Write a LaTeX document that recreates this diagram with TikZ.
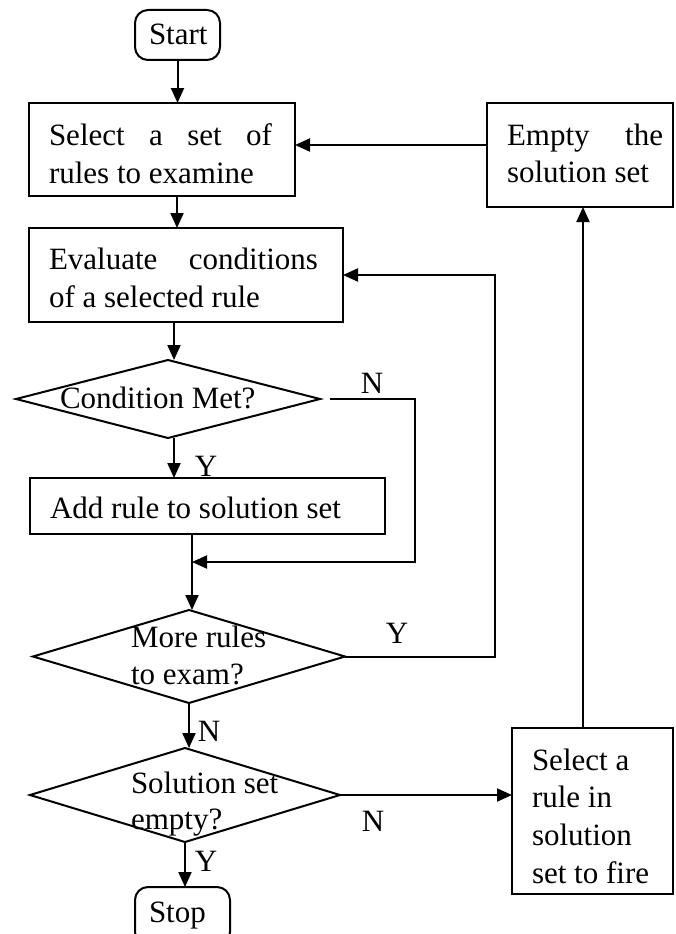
\documentclass[tikz,border=0pt]{standalone}
\usepackage{fontspec}
\setmainfont{Liberation Serif}
\usetikzlibrary{arrows.meta,shapes.geometric}
\begin{document}
\begin{tikzpicture}[x=1pt,y=-1pt,
  every node/.style={font=\fontsize{31}{38}\selectfont, inner sep=0pt, outer sep=0pt},
  box/.style={draw, line width=2pt, rectangle},
  term/.style={draw, line width=2pt, rectangle, rounded corners=13pt},
  dec/.style={draw, line width=2pt, diamond, aspect=1},
  txt/.style={anchor=base west},
  lab/.style={anchor=center},
  ln/.style={line width=2pt},
  arr/.style={line width=2pt, -{Triangle[length=15pt,width=13pt]}},
]
\useasboundingbox (0,0) rectangle (676,934);
\clip (0,0) rectangle (676,934);

% ---- shapes ----
\node[term, minimum width=85pt, minimum height=50pt] (start) at (177.5,35) {};
\node[box, minimum width=266pt, minimum height=93pt] (b1) at (162,149.5) {};
\node[box, minimum width=186pt, minimum height=104pt] (empty) at (580,155) {};
\node[box, minimum width=314pt, minimum height=94pt] (b2) at (186,275) {};
\node[dec, minimum width=304pt, minimum height=78pt] (d1) at (168,399) {};
\node[box, minimum width=355pt, minimum height=56pt] (b3) at (207.5,506) {};
\node[dec, minimum width=312pt, minimum height=93pt] (d2) at (189,656.5) {};
\node[dec, minimum width=310pt, minimum height=94pt] (d3) at (185,795) {};
\node[box, minimum width=161pt, minimum height=166pt] (sel) at (592.5,811) {};
\node[term, minimum width=95pt, minimum height=58pt] (stop) at (182.5,916) {};

% ---- texts ----
\node[txt] (startt) at (149,45) {Start};
\node[txt] (b1t1) at (49,145) {\makebox[223pt][s]{Select a set of}};
\node[txt] (b1t2) at (49,183) {rules to examine};
\node[txt] (emptyt1) at (507,145) {\makebox[156pt][s]{Empty the}};
\node[txt] (emptyt2) at (507,182) {solution set};
\node[txt] (b2t1) at (49,269) {\makebox[269pt][s]{Evaluate conditions}};
\node[txt] (b2t2) at (49,307) {of a selected rule};
\node[txt] (d1t) at (60,408) {Condition Met?};
\node[txt] (b3t) at (50,518) {Add rule to solution set};
\node[txt] (d2t1) at (131,647) {More rules};
\node[txt] (d2t2) at (131,684) {to exam?};
\node[txt] (d3t1) at (131,793) {Solution set};
\node[txt] (d3t2) at (131,829) {empty?};
\node[txt] (selt1) at (532,770) {Select a};
\node[txt] (selt2) at (532,807) {rule in};
\node[txt] (selt3) at (532,845) {solution};
\node[txt] (selt4) at (532,883) {set to fire};
\node[txt] (stopt) at (149,922) {Stop};

% ---- branch labels ----
\node[lab] (ln1) at (372,383) {N};
\node[lab] (ly1) at (206,466) {Y};
\node[lab] (ly2) at (397,633) {Y};
\node[lab] (ln2) at (209,731) {N};
\node[lab] (ln3) at (373,821) {N};
\node[lab] (ly3) at (206,861) {Y};

% ---- connectors ----
\draw[arr] (start.south) -- (start.south |- b1.north);
\draw[arr] ([xshift=15pt]b1.south) -- ([xshift=15pt]b1.south |- b2.north);
\draw[arr] ([xshift=-12pt]b2.south) -- ([xshift=-12pt]b2.south |- d1.north);
\draw[arr] ([xshift=6pt]d1.south) -- ([xshift=6pt]d1.south |- b3.north);
\coordinate (mrg) at (192,562);
\draw[ln] (mrg |- b3.south) -- (mrg);
\draw[arr] (mrg) -- (mrg |- d2.north);
\draw[arr] ([xshift=10pt]d1.east) -- (415,399) -- (415,562) -- (mrg);
\draw[arr] (d2.east) -- ++(150,0) |- (b2.east);
\draw[arr] (d2.south) -- (d2.south |- d3.north);
\draw[arr] (d3.east) -- (d3.east -| sel.west);
\draw[arr] (d3.south) -- (d3.south |- stop.north);
\draw[arr] ([xshift=-9.5pt]sel.north) -- ([xshift=-9.5pt]sel.north |- empty.south);
\draw[arr] ([yshift=10pt]empty.west) -- ([yshift=10pt]empty.west -| b1.east);
\end{tikzpicture}
\end{document}
